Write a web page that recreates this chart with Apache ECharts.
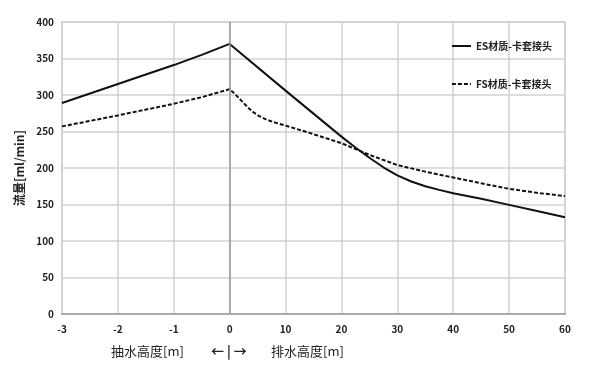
<!DOCTYPE html>
<html><head><meta charset="utf-8">
<script src="https://cdn.jsdelivr.net/npm/echarts@6/dist/echarts.min.js"></script>
<style>html,body{margin:0;padding:0;background:#fff}#c{width:600px;height:367px}</style>
</head><body><div id="c"></div>
<script>
// Data (x in metres: negative = suction height, positive = discharge height)
var esX = [-3, -2, -1, -0.5, 0, 10, 20, 22.5, 25, 27.5, 30, 32.5, 35, 37.5, 40, 45, 50, 55, 60];
var esY = [289, 315, 341, 355, 370, 306, 243, 228, 214, 201, 190, 181.5, 175, 170, 165.5, 158, 149.5, 141, 132.5];
var fsX = [-3, -2, -1, -0.5, 0, 1, 2, 3.4, 4.3, 5.2, 6.4, 7.6, 10, 13.5, 20, 25, 30, 35, 40, 45, 50, 55, 60];
var fsY = [257, 272, 288, 297, 308, 301, 293, 282, 276, 271.5, 267, 263.5, 258, 250, 234, 218, 204, 195, 187, 179, 171.5, 166, 161.5];
var xTicks = ['-3', '-2', '-1', '0', '10', '20', '30', '40', '50', '60'];
var seriesNames = ['ES材质-卡套接头', 'FS材质-卡套接头'];
var yName = '流量[ml/min]';
var leftLabel = '抽水高度[m]', midLabel = '← | →', rightLabel = '排水高度[m]';

// piecewise axis: -3..0 at 1 per tick, 0..60 at 10 per tick
function toAxis(x) { return x <= 0 ? x : x / 10; }
function pairs(xs, ys) { return xs.map(function (x, i) { return [toAxis(x), ys[i]]; }); }

var font = '"Noto Sans CJK SC", "Noto Sans", sans-serif';
var chart = echarts.init(document.getElementById('c'));
chart.setOption({
  animation: false,
  textStyle: { fontFamily: font },
  grid: { left: 62, right: 35, top: 22, bottom: 53, show: true, borderColor: '#c8c8c8', borderWidth: 1.5 },
  legend: {
    orient: 'vertical', right: 43, top: 36, itemGap: 28, itemWidth: 19, itemHeight: 10,
    itemStyle: { opacity: 0 },
    textStyle: { fontSize: 10, fontWeight: 'bold', color: '#222', fontFamily: font },
    data: seriesNames
  },
  xAxis: {
    type: 'value', min: -3, max: 6, interval: 1,
    axisLine: { show: true, onZero: false, lineStyle: { color: '#aaa', width: 2 } },
    axisTick: { show: false },
    splitLine: { show: true, lineStyle: { color: '#d2d2d2', width: 1.5 } },
    axisLabel: {
      margin: 10, fontSize: 10, fontWeight: 'bold', color: '#222',
      formatter: function (v) { return xTicks[Math.round(v) + 3]; }
    }
  },
  yAxis: {
    type: 'value', min: 0, max: 400, interval: 50,
    name: yName, nameLocation: 'middle', nameGap: 34, nameRotate: 90,
    nameTextStyle: { fontSize: 12, fontWeight: 'bold', color: '#222', fontFamily: font },
    axisLine: { show: false }, axisTick: { show: false },
    splitLine: { show: true, lineStyle: { color: '#d2d2d2', width: 1.5 } },
    axisLabel: { margin: 8, fontSize: 10, fontWeight: 'bold', color: '#222' }
  },
  series: [
    {
      name: seriesNames[0], type: 'line', data: pairs(esX, esY), symbol: 'none', smooth: false,
      lineStyle: { color: '#111', width: 2 }, itemStyle: { color: '#111' },
      markLine: {
        silent: true, symbol: 'none', label: { show: false },
        lineStyle: { color: '#999', width: 1.5, type: 'solid' },
        data: [{ xAxis: 0 }]
      }
    },
    {
      name: seriesNames[1], type: 'line', data: pairs(fsX, fsY), symbol: 'none', smooth: false,
      lineStyle: { color: '#111', width: 2, type: [4, 2] }, itemStyle: { color: '#111' }
    }
  ],
  graphic: [
    { type: 'text', left: 111, top: 345, style: { text: leftLabel, font: '13px ' + font, fill: '#222' } },
    { type: 'text', left: 211, top: 345, style: { text: midLabel, font: 'bold 13px ' + font, fill: '#222' } },
    { type: 'text', left: 271, top: 345, style: { text: rightLabel, font: '13px ' + font, fill: '#222' } }
  ]
});
</script></body></html>
